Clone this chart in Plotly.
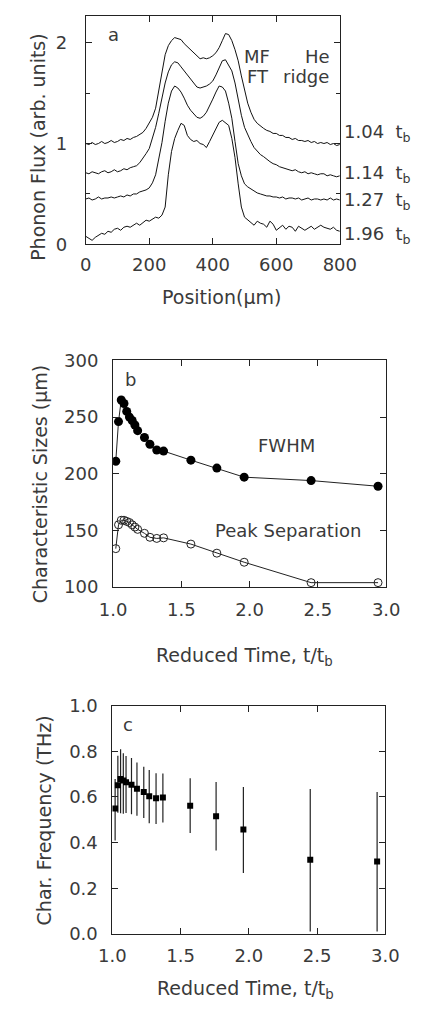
import plotly.graph_objects as go

# ---------------- Panel a: phonon flux profiles ----------------
position_um = list(range(0, 801, 10))

flux_104 = [1.00, 0.99, 1.01, 0.99, 1.00, 1.02, 1.00, 1.01, 1.03, 1.01,
            1.02, 1.04, 1.03, 1.05, 1.04, 1.06, 1.07, 1.09, 1.11, 1.15,
            1.20, 1.26, 1.35, 1.52, 1.72, 1.88, 1.97, 2.02, 2.05, 2.04,
            2.03, 1.99, 1.96, 1.93, 1.89, 1.86, 1.84, 1.85, 1.84, 1.85,
            1.87, 1.90, 1.95, 2.02, 2.09, 2.08, 2.02, 1.93, 1.82, 1.67,
            1.52, 1.40, 1.31, 1.24, 1.20, 1.17, 1.15, 1.13, 1.12, 1.10,
            1.10, 1.08, 1.08, 1.06, 1.06, 1.04, 1.05, 1.03, 1.03, 1.02,
            1.03, 1.01, 1.02, 1.00, 1.01, 1.00, 1.01, 0.99, 1.00, 0.98, 0.99]

flux_114 = [0.71, 0.70, 0.72, 0.71, 0.70, 0.72, 0.73, 0.71, 0.72, 0.74,
            0.72, 0.73, 0.75, 0.74, 0.76, 0.77, 0.78, 0.81, 0.85, 0.90,
            0.95, 1.05, 1.16, 1.30, 1.45, 1.60, 1.71, 1.78, 1.81, 1.80,
            1.76, 1.72, 1.68, 1.63, 1.59, 1.56, 1.55, 1.56, 1.57, 1.59,
            1.62, 1.68, 1.75, 1.82, 1.83, 1.78, 1.72, 1.60, 1.42, 1.28,
            1.16, 1.08, 1.02, 0.96, 0.92, 0.89, 0.87, 0.84, 0.82, 0.80,
            0.79, 0.77, 0.76, 0.75, 0.74, 0.73, 0.74, 0.72, 0.71, 0.72,
            0.70, 0.71, 0.70, 0.69, 0.70, 0.70, 0.68, 0.69, 0.68, 0.67, 0.68]

flux_127 = [0.45, 0.46, 0.44, 0.45, 0.47, 0.45, 0.46, 0.46, 0.47, 0.46,
            0.47, 0.48, 0.47, 0.49, 0.48, 0.50, 0.50, 0.52, 0.53, 0.54,
            0.56, 0.61, 0.69, 0.84, 1.01, 1.22, 1.40, 1.52, 1.57, 1.55,
            1.51, 1.45, 1.38, 1.33, 1.29, 1.26, 1.25, 1.27, 1.31, 1.37,
            1.44, 1.51, 1.57, 1.56, 1.52, 1.40, 1.25, 1.02, 0.80, 0.68,
            0.60, 0.57, 0.55, 0.53, 0.51, 0.50, 0.49, 0.48, 0.48, 0.47,
            0.47, 0.46, 0.47, 0.45, 0.46, 0.46, 0.45, 0.46, 0.44, 0.45,
            0.46, 0.44, 0.45, 0.45, 0.44, 0.45, 0.44, 0.46, 0.44, 0.45, 0.44]

flux_196 = [0.08, 0.06, 0.04, 0.07, 0.09, 0.11, 0.10, 0.13, 0.12, 0.15,
            0.16, 0.14, 0.17, 0.18, 0.17, 0.19, 0.21, 0.19, 0.22, 0.24,
            0.23, 0.25, 0.27, 0.26, 0.29, 0.37, 0.69, 0.92, 1.05, 1.13,
            1.20, 1.18, 1.08, 1.04, 1.02, 1.03, 1.00, 0.99, 0.96, 1.02,
            1.08, 1.15, 1.21, 1.23, 1.20, 1.18, 1.05, 0.86, 0.60, 0.37,
            0.27, 0.24, 0.22, 0.19, 0.23, 0.21, 0.20, 0.17, 0.23, 0.20,
            0.14, 0.17, 0.19, 0.15, 0.18, 0.17, 0.13, 0.18, 0.16, 0.14,
            0.16, 0.18, 0.15, 0.17, 0.19, 0.17, 0.16, 0.15, 0.17, 0.14, 0.13]

curve_labels = ["1.04  t<sub>b</sub>", "1.14  t<sub>b</sub>",
                "1.27  t<sub>b</sub>", "1.96  t<sub>b</sub>"]
curve_label_levels = [1.10, 0.70, 0.43, 0.09]

# ---------------- Panel b: characteristic sizes ----------------
t_b = [1.02, 1.04, 1.06, 1.08, 1.10, 1.12, 1.14, 1.16, 1.18,
       1.23, 1.27, 1.32, 1.37, 1.57, 1.76, 1.96, 2.45, 2.94]
fwhm = [211, 246, 265, 262, 255, 250, 247, 243, 238,
        232, 226, 221, 220, 212, 205, 197, 194, 189]
peak_sep = [134, 155, 159, 159, 158, 157, 155, 153, 151,
            147.5, 144, 143, 143.5, 138, 130, 122, 104, 104]

# ---------------- Panel c: characteristic frequency ----------------
t_c = [1.02, 1.04, 1.06, 1.08, 1.10, 1.14, 1.18, 1.23, 1.27, 1.32, 1.37,
       1.57, 1.76, 1.96, 2.45, 2.94]
freq = [0.549, 0.651, 0.679, 0.672, 0.665, 0.654, 0.636, 0.622, 0.603, 0.594, 0.598,
        0.562, 0.516, 0.457, 0.325, 0.317]
err_up = [0.13, 0.13, 0.13, 0.12, 0.115, 0.117, 0.115, 0.11, 0.115, 0.11, 0.105,
          0.12, 0.15, 0.187, 0.31, 0.305]
err_down = [0.14, 0.12, 0.15, 0.145, 0.135, 0.13, 0.118, 0.114, 0.118, 0.112, 0.11,
            0.12, 0.15, 0.19, 0.315, 0.307]

W, H = 432, 1020
FONT = "DejaVu Sans"
TXT = "#3a3a3a"
AX = "#222222"

fig = go.Figure()

for ys in [flux_104, flux_114, flux_127, flux_196]:
    fig.add_trace(go.Scatter(x=position_um, y=ys, mode="lines",
                             line=dict(color="#111111", width=1),
                             xaxis="x", yaxis="y", showlegend=False))

fig.add_trace(go.Scatter(x=t_b, y=fwhm, mode="lines+markers",
                         line=dict(color="#222222", width=1),
                         marker=dict(symbol="circle", size=9, color="black"),
                         xaxis="x2", yaxis="y2", showlegend=False))
fig.add_trace(go.Scatter(x=t_b, y=peak_sep, mode="lines+markers",
                         line=dict(color="#222222", width=1),
                         marker=dict(symbol="circle-open", size=8, color="#222222",
                                     line=dict(width=1)),
                         xaxis="x2", yaxis="y2", showlegend=False))

fig.add_trace(go.Scatter(x=t_c, y=freq, mode="markers",
                         marker=dict(symbol="square", size=6, color="black"),
                         error_y=dict(type="data", symmetric=False, array=err_up,
                                      arrayminus=err_down, color="#222222",
                                      thickness=1.2, width=0),
                         xaxis="x3", yaxis="y3", showlegend=False))


def px_x(p):
    return p / W


def px_y(p):
    return 1 - p / H


axis_common = dict(showline=True, linecolor=AX, linewidth=1, mirror="ticks",
                   ticks="inside", ticklen=6, tickcolor=AX, showgrid=False,
                   zeroline=False, tickfont=dict(family=FONT, size=18, color=TXT))

fig.update_layout(
    width=W, height=H, margin=dict(l=0, r=0, t=0, b=0),
    paper_bgcolor="white", plot_bgcolor="white",
    xaxis=dict(domain=[px_x(77.3), px_x(351)], range=[0, 800], anchor="y",
               tickvals=[0, 200, 400, 600, 800], ticklabelstandoff=4,
               **axis_common),
    yaxis=dict(domain=[px_y(238.3), px_y(5)], range=[0, 2.265], anchor="x",
               tickvals=[0, 1, 2], ticklabelstandoff=14,
               minor=dict(tickvals=[0.5, 1.5], ticks="inside", ticklen=4, tickcolor=AX),
               **axis_common),
    xaxis2=dict(domain=[px_x(106.7), px_x(401)], range=[1, 3], anchor="y2",
                tickvals=[1.0, 1.5, 2.0, 2.5, 3.0], ticktext=["1.0", "1.5", "2.0", "2.5", "3.0"],
                ticklabelstandoff=6, **axis_common),
    yaxis2=dict(domain=[px_y(588.3), px_y(356.7)], range=[100, 300], anchor="x2",
                tickvals=[100, 150, 200, 250, 300], ticklabelstandoff=10,
                **axis_common),
    xaxis3=dict(domain=[px_x(106), px_x(400)], range=[1, 3], anchor="y3",
                tickvals=[1.0, 1.5, 2.0, 2.5, 3.0], ticktext=["1.0", "1.5", "2.0", "2.5", "3.0"],
                ticklabelstandoff=6, **axis_common),
    yaxis3=dict(domain=[px_y(942.3), px_y(709.3)], range=[0, 1.0], anchor="x3",
                tickvals=[0, 0.2, 0.4, 0.6, 0.8, 1.0],
                ticktext=["0.0", "0.2", "0.4", "0.6", "0.8", "1.0"], ticklabelstandoff=10,
                **axis_common),
)

ann = []


def text(x, y, s, size=18, xanchor="center", yanchor="middle", angle=0):
    ann.append(dict(x=px_x(x), y=px_y(y), xref="paper", yref="paper", text=s,
                    showarrow=False, xanchor=xanchor, yanchor=yanchor, textangle=angle,
                    font=dict(family=FONT, size=size, color=TXT)))


# axis titles
text(25, 138.5, "Phonon Flux (arb. units)", size=19, angle=-90)
text(224, 292, "Position(μm)", size=19)
text(28.3, 483, "Characteristic Sizes (μm)", size=19, angle=-90)
text(248, 659, "Reduced Time, t/t<sub>b</sub>", size=19)
text(33.3, 826.5, "Char. Frequency (THz)", size=19, angle=-90)
text(249, 999, "Reduced Time, t/t<sub>b</sub>", size=19)

# panel letters
text(106.7, 24, "a")
text(126, 376, "b")
text(123.3, 728, "c")

# panel a annotations
text(261.7, 46.7, "MF")
text(343, 46.7, "He", xanchor="right")
text(263.3, 66.7, "FT")
text(342, 66.7, "ridge", xanchor="right")
for lab, lev in zip(curve_labels, curve_label_levels):
    ann.append(dict(x=353 / W, y=lev, xref="paper", yref="y", text=lab, showarrow=False,
                    xanchor="left", yanchor="middle",
                    font=dict(family=FONT, size=18, color=TXT)))

# panel b annotations
text(293.3, 443.3, "FWHM")
text(295, 530.7, "Peak Separation")

fig.update_layout(annotations=ann)

fig.write_html("out.html")
